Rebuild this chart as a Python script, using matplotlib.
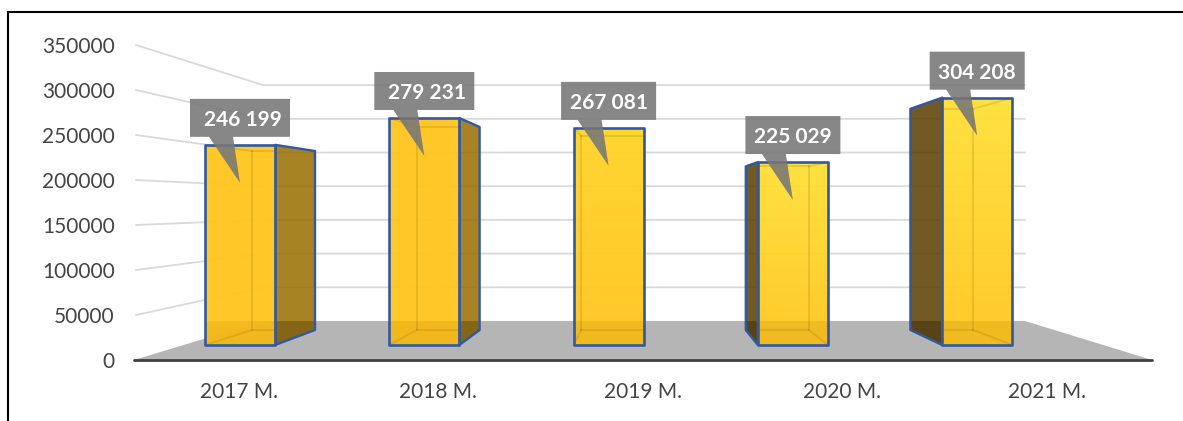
import numpy as np
import matplotlib.pyplot as plt
from matplotlib.colors import to_rgb
from matplotlib.lines import Line2D
from matplotlib.patches import Polygon

plt.rc('font', family=['Lato', 'DejaVu Sans'])

years = ['2017 M.', '2018 M.', '2019 M.', '2020 M.', '2021 M.']
values = [246199, 279231, 267081, 225029, 304208]
labels = ['246 199', '279 231', '267 081', '225 029', '304 208']
ticks = [0, 50000, 100000, 150000, 200000, 250000, 300000, 350000]

top_colors = ['#ffc720', '#ffc720', '#ffd52a', '#ffe03a', '#ffe03a']
bot_colors = ['#ffc520', '#ffc520', '#ffc622', '#ffc824', '#ffc824']
side_colors = ['#986d00', '#986d00', '#986d00', '#593d00', '#593d00']
label_x = [239, 438, 643, 842, 1047]

W, H = 1183, 421
fig = plt.figure(figsize=(W / 100, H / 100), dpi=100)
# axes span the front edge of the floor, x stays in pixels, y in chart values
ax = fig.add_axes([134 / W, 1 - 360 / H, (1152 - 134) / W, 315 / H])


def val(py):
    return (360 - py) / 0.9 * 1000


# perspective planes: pixel y of a value at that depth
def front_y(v):
    return 345 - 0.813 * v / 1000


def back_y(v):
    return 330 - 0.727 * v / 1000


def wall_y(v):
    return 321 - 0.674 * v / 1000


def poly(pts, **kw):
    p = Polygon([(x, val(y)) for x, y in pts], clip_on=False, **kw)
    ax.add_patch(p)
    return p


def line(xs, ys, **kw):
    ax.plot(xs, [val(y) for y in ys], clip_on=False, solid_capstyle='round', **kw)


def floor_shade(x0, x1, clip, color, alpha, z):
    # floor shows through the glassy faces below the back edge of the floor
    s = poly([(x0, 321), (x1, 321), (x1, 350), (x0, 350)], fc=color, ec='none',
             alpha=alpha, zorder=z)
    s.set_clip_path(clip)
    s.set_clip_on(True)


# gridlines, side wall then back wall
for t in ticks[1:]:
    line([136, 263, 1025], [360 - 0.9 * t / 1000, wall_y(t), wall_y(t)],
         color='#d9d9d9', lw=1.3, zorder=1)

# floor
poly([(134, 360), (263, 321), (1025, 321), (1152, 360)], fc='#b5b5b5', ec='none', zorder=2)

for i, v in enumerate(values):
    fc = 240 + 184.3 * i
    bc = 283.5 + 164.6 * i
    fl, fr = fc - 35, fc + 35
    bl, br = bc - 31.5, bc + 31.5
    ft, fb = front_y(v), front_y(0)
    bt, bb = back_y(v), back_y(0)
    z = 3 + i * 0.01

    # side face
    side = None
    if br > fr + 2:
        side = [(fr, ft), (br, bt), (br, bb), (fr, fb)]
    if bl < fl - 2:
        side = [(fl, ft), (bl, bt), (bl, bb), (fl, fb)]
    if side:
        p = poly(side, fc=side_colors[i], ec='none', alpha=0.85, zorder=z)
        floor_shade(min(bl, fl), max(br, fr), p, 'black', 0.14, z + 0.0005)
        poly(side, fc='none', ec='#32599f', lw=1.7, zorder=z + 0.0006, joinstyle='round')

    # front face with a soft vertical gradient
    c0 = np.array(to_rgb(top_colors[i]))
    c1 = np.array(to_rgb(bot_colors[i]))
    grad = np.linspace(0, 1, 64)[:, None, None] * (c1 - c0) + c0
    box = poly([(fl, ft), (fr, ft), (fr, fb), (fl, fb)], fc='none', ec='none', zorder=z)
    im = ax.imshow(grad, extent=(fl, fr, val(fb), val(ft)), aspect='auto', alpha=0.97,
                   zorder=z + 0.001, clip_on=True)
    im.set_clip_path(box)
    floor_shade(fl, fr, box, '#c89000', 0.22, z + 0.0015)

    # inner edges seen through the front face
    inner = dict(color='#8a6d10', lw=1.4, alpha=0.2, zorder=z + 0.002)
    line([max(bl, fl), max(bl, fl)], [bt, bb], **inner)
    line([min(br, fr), min(br, fr)], [bt, bb], **inner)
    line([max(bl, fl), min(br, fr)], [bt, bt], **inner)
    line([max(bl, fl), min(br, fr)], [bb, bb], **inner)
    line([fl, max(bl, fl)], [fb, bb], **inner)
    line([fr, min(br, fr)], [fb, bb], **inner)
    line([fl, max(bl, fl)], [ft, bt], **inner)
    line([fr, min(br, fr)], [ft, bt], **inner)

    poly([(fl, ft), (fr, ft), (fr, fb), (fl, fb)], fc='none', ec='#32599f', lw=1.9,
         zorder=z + 0.003, joinstyle='round')

# callouts
for i, v in enumerate(values):
    tip = 240 + 184.3 * i
    ft = front_y(v)
    half = 50 if i < 2 else 47.5
    b_top, b_bot = ft - 46, ft - 8
    poly([(tip - half, b_top), (tip + half, b_top), (tip + half, b_bot), (tip - 7, b_bot),
          (tip, ft + 38), (tip - 31, b_bot), (tip - half, b_bot)],
         fc='#777777', ec='none', alpha=0.88, zorder=5)
    ax.text(tip + 3 if i < 2 else tip, val((b_top + b_bot) / 2 + 2), labels[i], color='white',
            fontsize=15, fontweight='bold', ha='center', va='center', zorder=6)

# axis line
line([134, 1152], [360, 360], color='#404040', lw=2.0, zorder=4)

ax.set_xlim(134, 1152)
ax.set_ylim(0, 350000)
ax.set_yticks(ticks)
ax.set_xticks(label_x)
ax.set_xticklabels(years)
ax.tick_params(axis='y', length=0, pad=14, labelsize=15, labelcolor='#444444')
ax.tick_params(axis='x', length=0, pad=16, labelsize=15, labelcolor='#444444')
ax.patch.set_visible(False)
for s in ax.spines.values():
    s.set_visible(False)

# black frame round the chart, open at the bottom and right
fig.add_artist(Line2D([8 / W, 8 / W], [0, 1 - 12 / H], color='black', lw=1.5))
fig.add_artist(Line2D([8 / W, 1], [1 - 12 / H, 1 - 12 / H], color='black', lw=1.5))

fig.savefig('out.png', dpi=100)
